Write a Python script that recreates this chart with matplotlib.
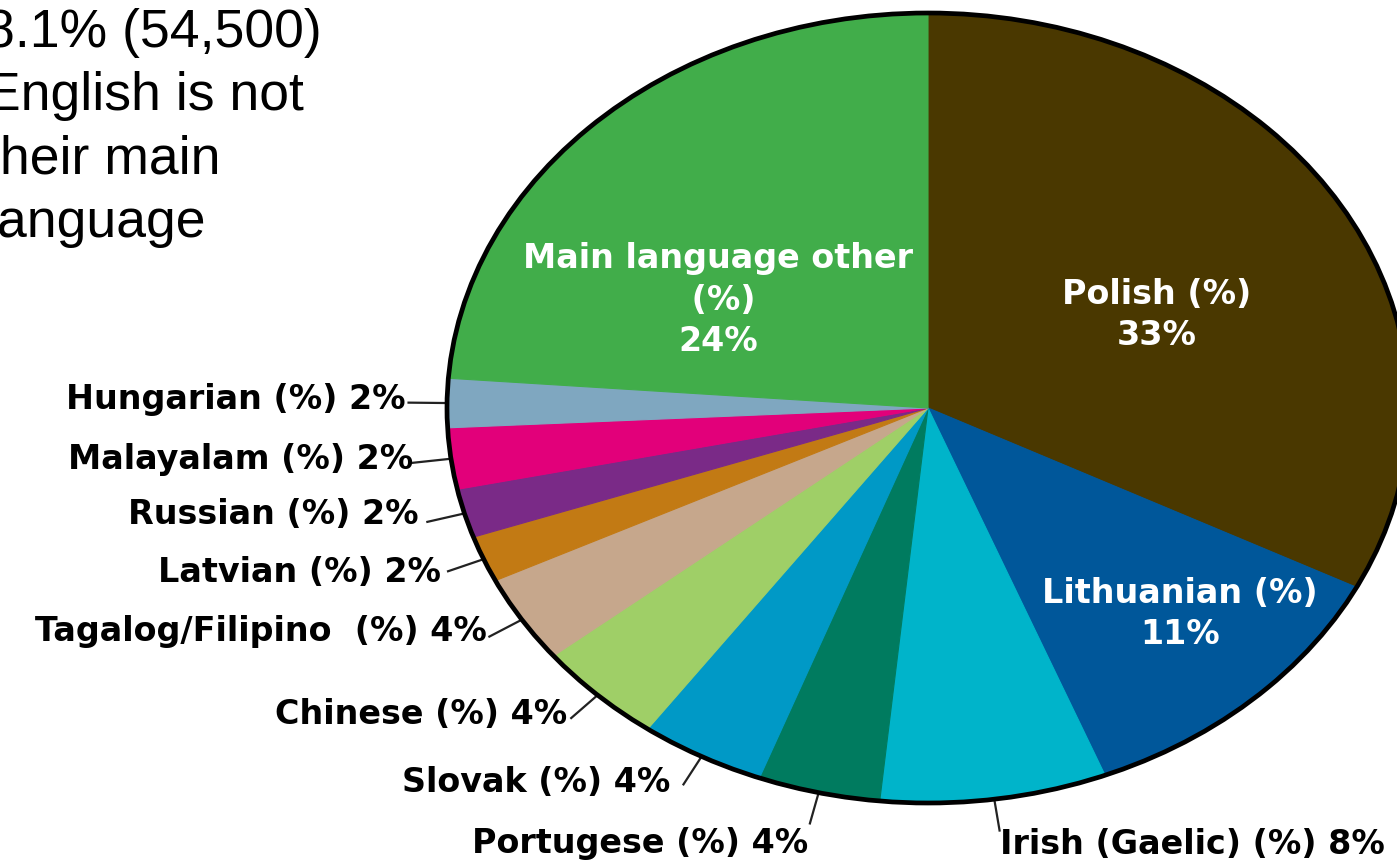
import numpy as np
import matplotlib
matplotlib.use("Agg")
import matplotlib.pyplot as plt
from matplotlib.patches import Circle

# slices, clockwise from 12 o'clock
languages = ["Polish", "Lithuanian", "Irish (Gaelic)", "Portugese", "Slovak", "Chinese",
             "Tagalog/Filipino ", "Latvian", "Russian", "Malayalam", "Hungarian",
             "Main language other"]
shares = [32.5, 11.5, 7.6, 4.1, 4.2, 4.3, 3.6, 1.9, 2.0, 2.5, 2.0, 23.8]
shown_pct = [33, 11, 8, 4, 4, 4, 4, 2, 2, 2, 2, 24]
colors = ["#4a3800", "#00579a", "#00b4ca", "#007b5f", "#0099c6", "#9fcf67",
          "#c6a78c", "#c27a14", "#7a2a87", "#e2007a", "#7fa7c0", "#41ad4a"]
note_lines = ["8.1% (54,500)", "English is not", "their main", "language"]

# pixel layout of the (elliptical) pie
W, H = 1397, 861
CX, CY, RX, RY = 928, 408, 481, 395


def to_data(px, py):
    return (px - CX) / RX, (CY - py) / RY


fig = plt.figure(figsize=(W / 100, H / 100), dpi=100)
ax = fig.add_axes([0, 0, 1, 1])

wedges, _ = ax.pie(shares, colors=colors, startangle=90, counterclock=False, radius=1)
for w in wedges:
    w.set_edgecolor(w.get_facecolor())
    w.set_linewidth(0.8)
ax.add_patch(Circle((0, 0), 1, fill=False, ec="black", lw=3.4, zorder=3))

ax.set_aspect("auto")
x0, y0 = to_data(0, H)
x1, y1 = to_data(W, 0)
ax.set_xlim(x0, x1)
ax.set_ylim(y0, y1)
ax.axis("off")

bold = dict(family="DejaVu Sans", fontweight="bold", fontsize=24)

# labels inside the big slices
inside = {0: (1157, 315), 1: (1180, 614), 11: (718, 300)}
for i, (px, py) in inside.items():
    name = languages[i]
    if i == 11:
        name = "Main language other\n"
    ax.text(*to_data(px, py), f"{name} (%)\n{shown_pct[i]}%", color="white",
            ha="center", va="center", linespacing=1.32, **bold)

# outside labels with short leader lines
outside = {2: (1000, 845, "left"), 3: (808, 843, "right"), 4: (670, 783, "right"),
           5: (567, 715, "right"), 6: (487, 631, "right"), 7: (441, 573, "right"),
           8: (419, 514, "right"), 9: (413, 460, "right"), 10: (405, 400, "right")}
for i, (px, py, ha) in outside.items():
    w = wedges[i]
    mid = np.deg2rad((w.theta1 + w.theta2) / 2)
    ax.plot([np.cos(mid), 1.08 * np.cos(mid)], [np.sin(mid), 1.08 * np.sin(mid)],
            color="#222222", lw=1.6, zorder=2)
    ax.text(*to_data(px, py), f"{languages[i]} (%) {shown_pct[i]}%", color="black",
            ha=ha, va="center", **bold)

# cropped note at the top left (cut off at the edge, as in the source image)
for k, line in enumerate(note_lines):
    ax.text(*to_data(-15, 47 + 63.3 * k), line, family="Liberation Sans",
            fontsize=38.5, ha="left", va="baseline", color="black")

fig.savefig("out.png", dpi=100)
